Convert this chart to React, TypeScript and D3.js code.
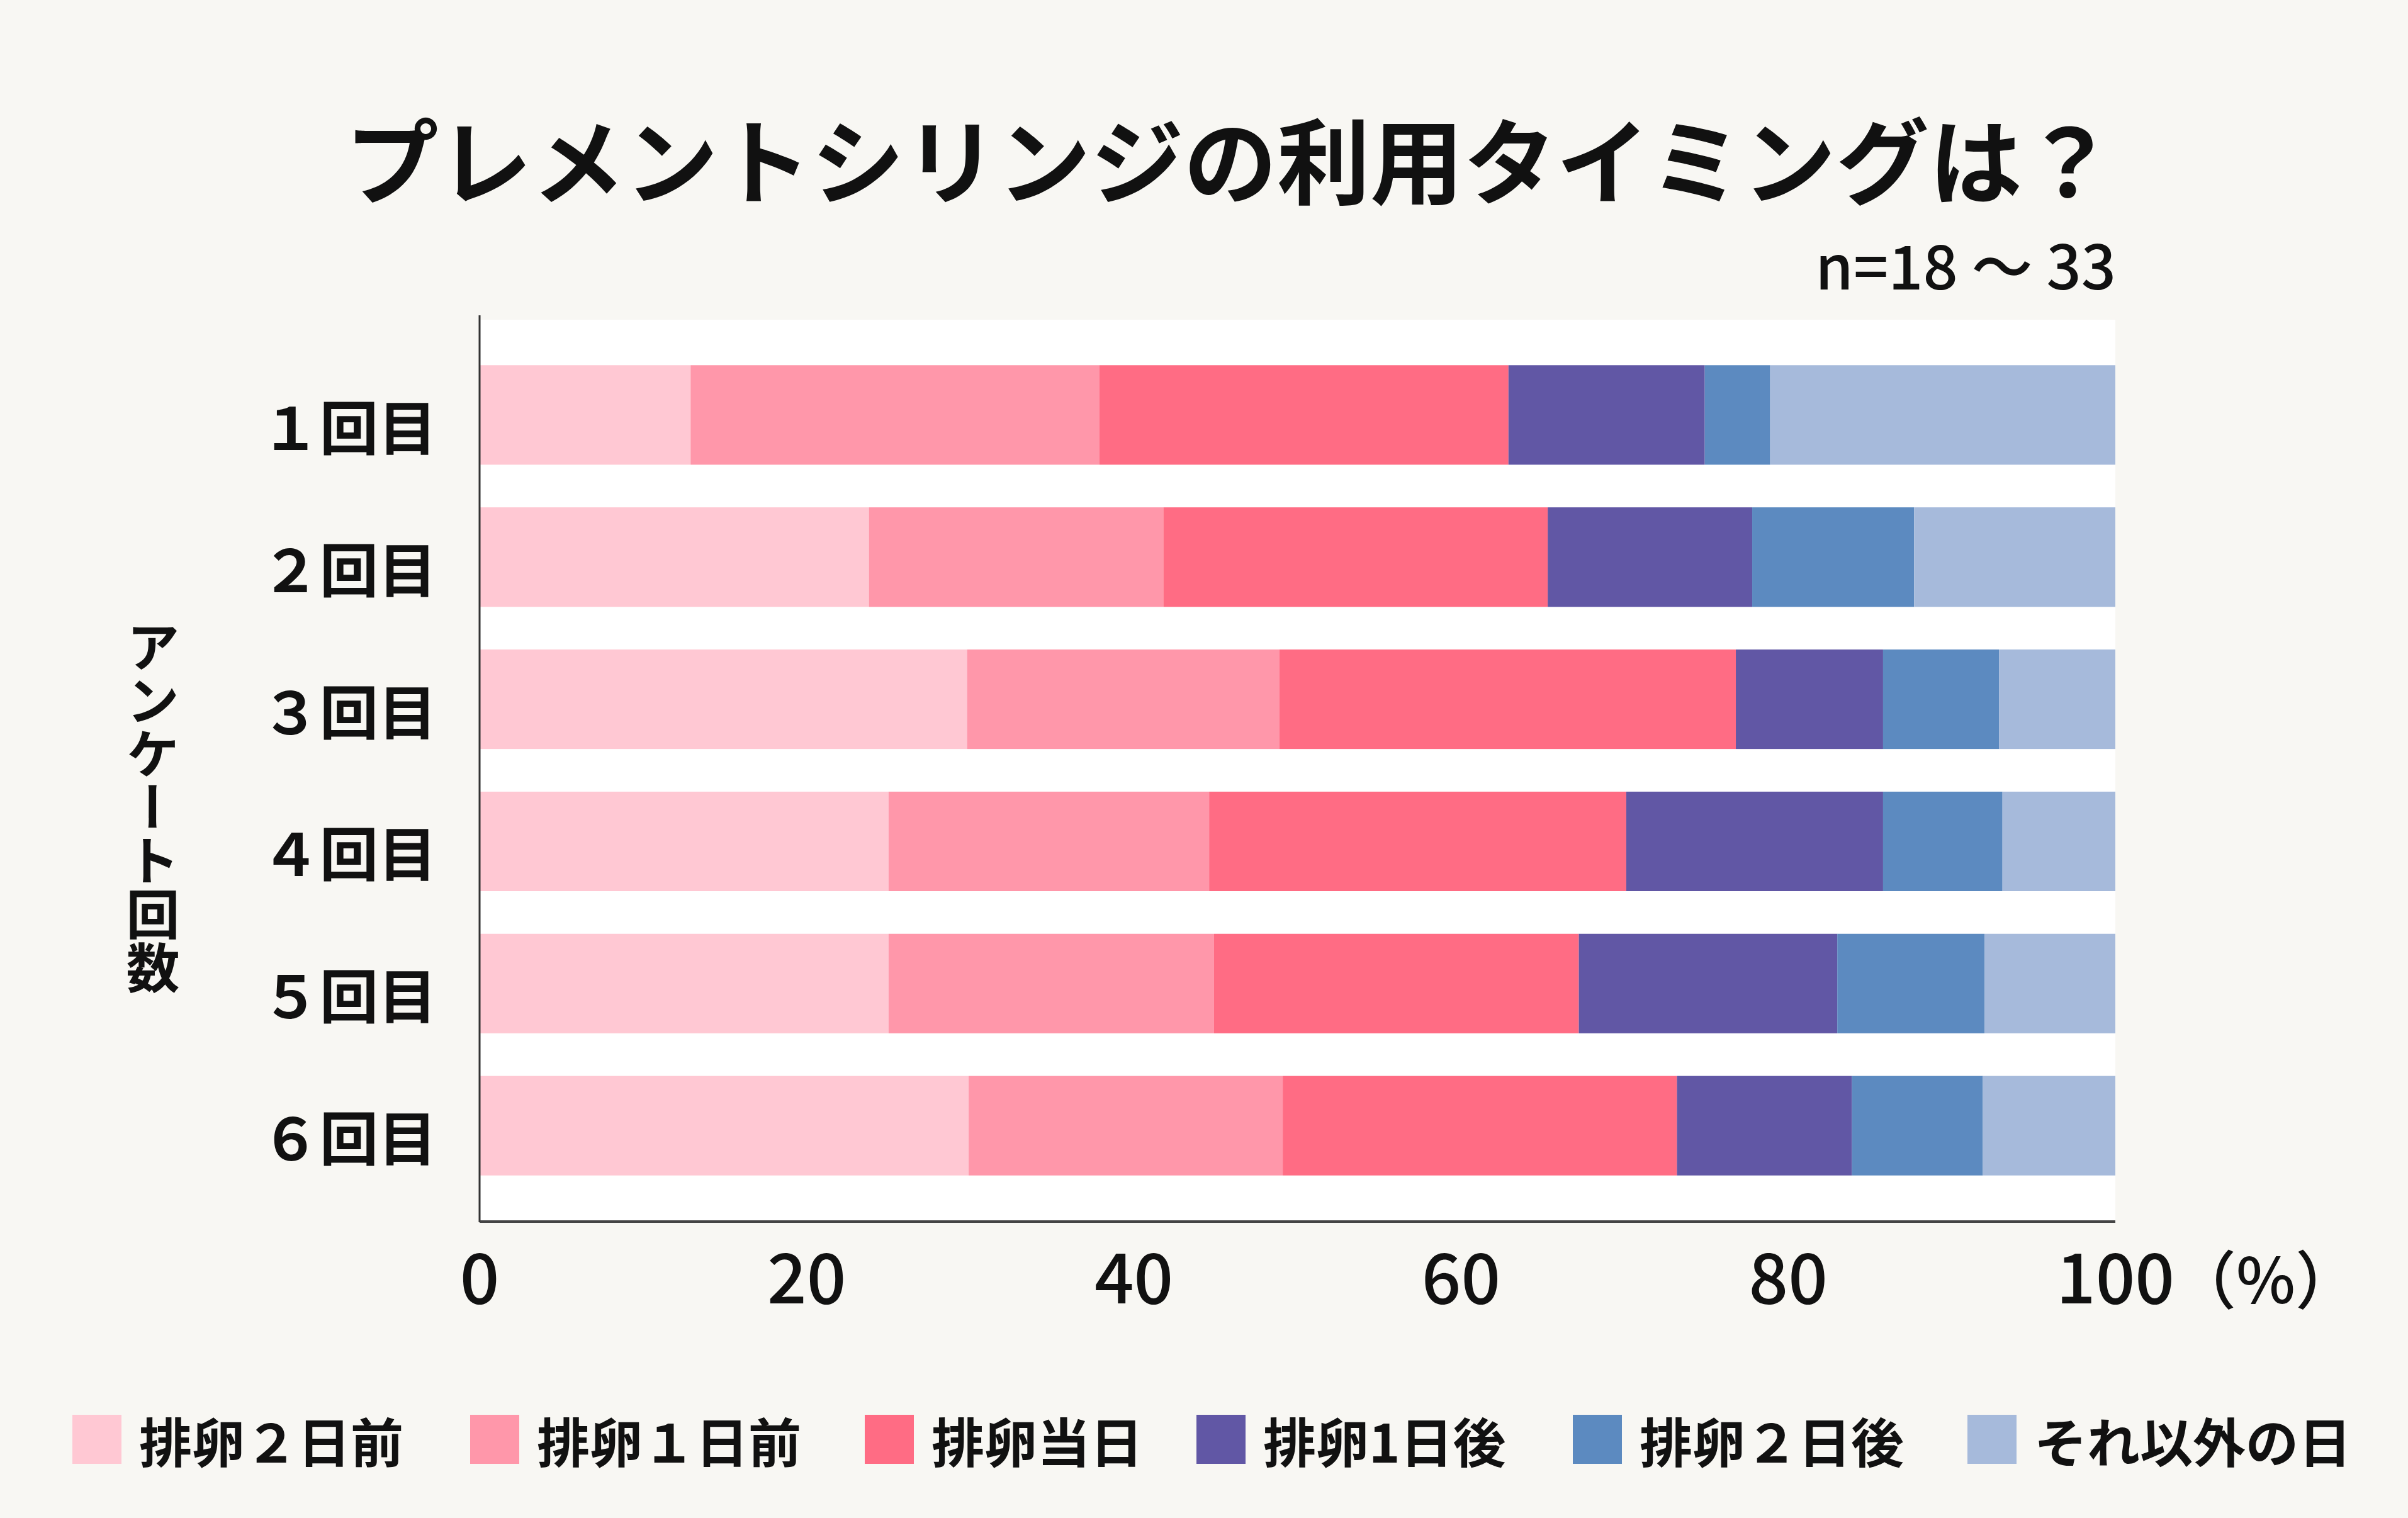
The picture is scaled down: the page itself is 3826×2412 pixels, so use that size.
import { useRef, useEffect } from 'react';
import * as d3 from 'd3';

const W = 3826;
const H = 2412;

const rounds = ['１回目', '２回目', '３回目', '４回目', '５回目', '６回目'];
const seriesNames = ['排卵２日前', '排卵１日前', '排卵当日', '排卵1日後', '排卵２日後', 'それ以外の日'];
const seriesColors = ['#FFC8D3', '#FF97AA', '#FF6C84', '#6157A5', '#5C8AC0', '#A6BADB'];

// percentage per round (1回目..6回目)
const before2 = [12.9, 23.8, 29.8, 25.0, 25.0, 29.9];
const before1 = [25.0, 18.0, 19.1, 19.6, 19.9, 19.2];
const dayOf = [25.0, 23.5, 27.9, 25.5, 22.3, 24.1];
const after1 = [12.0, 12.5, 9.0, 15.7, 15.8, 10.7];
const after2 = [4.0, 9.9, 7.1, 7.3, 9.0, 8.0];
const others = [21.1, 12.3, 7.1, 6.9, 8.0, 8.1];

const xTicks = [0, 20, 40, 60, 80, 100];

const TITLE = 'プレメントシリンジの利用タイミングは？';
const SAMPLE_NOTE = 'n=18 〜 33';
const Y_TITLE = 'アンケート回数';

const PLOT = { left: 762, right: 3361, top: 508, bottom: 1940 };
// legend item left edges (layout)
const LEGEND_X = [115, 747, 1374, 1901, 2499, 3126];
const FONT = '"Noto Sans CJK JP", "Noto Sans", sans-serif';

export default function App() {
  const svgRef = useRef<SVGSVGElement>(null);

  useEffect(() => {
    document.body.style.margin = '0';
    if (!svgRef.current) return;
    const svg = d3.select(svgRef.current);
    svg.selectAll('*').remove();

    svg.append('rect').attr('width', W).attr('height', H).attr('fill', '#F8F7F3');

    const rows = rounds.map((r, i) => ({
      round: r,
      s0: before2[i],
      s1: before1[i],
      s2: dayOf[i],
      s3: after1[i],
      s4: after2[i],
      s5: others[i],
    }));
    const keys = ['s0', 's1', 's2', 's3', 's4', 's5'];
    const stacked = d3.stack<any>().keys(keys)(rows);

    const x = d3.scaleLinear().domain([0, 100]).range([PLOT.left, PLOT.right]);
    const y = d3
      .scaleBand<string>()
      .domain(rounds)
      .range([PLOT.top, PLOT.bottom])
      .paddingInner(0.3)
      .paddingOuter(0.32);

    // plot background
    svg
      .append('rect')
      .attr('x', PLOT.left)
      .attr('y', PLOT.top)
      .attr('width', PLOT.right - PLOT.left)
      .attr('height', PLOT.bottom - PLOT.top)
      .attr('fill', '#ffffff');

    // bars
    svg
      .append('g')
      .selectAll('g')
      .data(stacked)
      .enter()
      .append('g')
      .attr('fill', (_d, i) => seriesColors[i])
      .selectAll('rect')
      .data((d) => d)
      .enter()
      .append('rect')
      .attr('x', (d) => x(d[0]))
      .attr('y', (d) => y(d.data.round) as number)
      .attr('width', (d) => x(d[1]) - x(d[0]))
      .attr('height', y.bandwidth());

    // axes lines
    svg
      .append('line')
      .attr('x1', PLOT.left)
      .attr('x2', PLOT.left)
      .attr('y1', PLOT.top - 7)
      .attr('y2', PLOT.bottom + 2)
      .attr('stroke', '#333')
      .attr('stroke-width', 3);
    svg
      .append('line')
      .attr('x1', PLOT.left)
      .attr('x2', PLOT.right)
      .attr('y1', PLOT.bottom + 1)
      .attr('y2', PLOT.bottom + 1)
      .attr('stroke', '#444')
      .attr('stroke-width', 4);

    // x tick labels
    svg
      .append('g')
      .selectAll('text')
      .data(xTicks)
      .enter()
      .append('text')
      .attr('x', (d) => x(d))
      .attr('y', 2071)
      .attr('text-anchor', 'middle')
      .style('font-family', FONT)
      .style('font-size', '110px')
      .style('font-weight', 500)
      .attr('fill', '#111')
      .text((d) => String(d));
    svg
      .append('text')
      .attr('x', x(100) + 92)
      .attr('y', 2071)
      .style('font-family', FONT)
      .style('font-size', '100px')
      .style('font-weight', 500)
      .attr('fill', '#111')
      .text('（%）');

    // y category labels
    svg
      .append('g')
      .selectAll('text')
      .data(rounds)
      .enter()
      .append('text')
      .attr('x', 694)
      .attr('y', (d) => (y(d) as number) + y.bandwidth() / 2 + 15)
      .attr('dominant-baseline', 'central')
      .attr('text-anchor', 'end')
      .style('font-family', FONT)
      .style('font-size', '93px')
      .style('font-weight', 700)
      .attr('fill', '#111')
      .text((d) => d);

    // y axis title (vertical)
    svg
      .append('text')
      .attr('x', 243)
      .attr('y', 1283)
      .attr('text-anchor', 'middle')
      .style('writing-mode', 'vertical-rl')
      .style('font-family', FONT)
      .style('font-size', '85px')
      .style('font-weight', 700)
      .attr('fill', '#111')
      .text(Y_TITLE);

    // title
    svg
      .append('text')
      .attr('x', 1955)
      .attr('y', 248)
      .attr('text-anchor', 'middle')
      .attr('dominant-baseline', 'central')
      .style('font-family', FONT)
      .style('font-size', '148px')
      .style('font-weight', 700)
      .attr('fill', '#111')
      .text(TITLE);

    svg
      .append('text')
      .attr('x', 3362)
      .attr('y', 460)
      .attr('text-anchor', 'end')
      .style('font-family', FONT)
      .style('font-size', '97px')
      .style('font-weight', 500)
      .attr('fill', '#111')
      .text(SAMPLE_NOTE);

    // legend
    const legend = svg.append('g');
    const sq = 78;
    const ly = 2248;
    seriesNames.forEach((name, i) => {
      legend
        .append('rect')
        .attr('x', LEGEND_X[i])
        .attr('y', ly)
        .attr('width', sq)
        .attr('height', sq)
        .attr('fill', seriesColors[i]);
      legend
        .append('text')
        .attr('x', LEGEND_X[i] + sq + 28)
        .attr('y', ly + sq / 2)
        .attr('dominant-baseline', 'central')
        .style('font-family', FONT)
        .style('font-size', '84px')
        .style('font-weight', 700)
        .attr('fill', '#111')
        .text(name);
    });
  }, []);

  return <svg ref={svgRef} width={W} height={H} style={{ display: 'block' }} />;
}
